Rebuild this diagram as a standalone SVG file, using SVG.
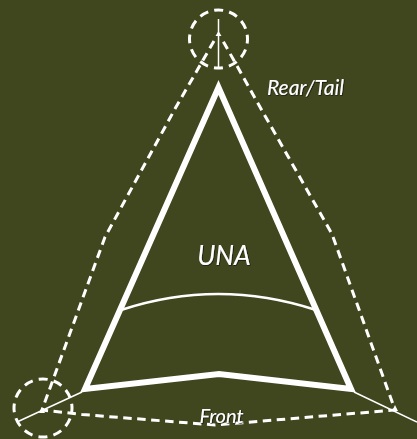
<svg xmlns="http://www.w3.org/2000/svg" width="417" height="439" viewBox="0 0 417 439">
<defs>
<filter id="shadow" x="-10%" y="-20%" width="120%" height="140%"><feDropShadow dx="0.6" dy="0.6" stdDeviation="0.3" flood-color="#111"/></filter>
</defs>
<style>
.bg{fill:#40461e}
.thick{fill:none;stroke:#fff;stroke-width:6;stroke-linejoin:miter;stroke-miterlimit:12}
.thin{fill:none;stroke:#fff;stroke-width:1.5}
.arc{fill:none;stroke:#fff;stroke-width:2.500}
.dash{fill:none;stroke:#fff;stroke-width:3;stroke-dasharray:8.500 5.500}
.circ{fill:none;stroke:#fff;stroke-width:3;stroke-dasharray:9 6.180;stroke-dashoffset:4.500}
.lbl{font-family:"Lato","Liberation Sans",sans-serif;font-style:italic;fill:#fff;filter:url(#shadow)}
</style>
<rect class="bg" width="417" height="439"/>
<g id="connectors">
<path class="thin" d="M218.500 19V68"/>
<path class="thin" d="M82 392L17 422"/>
<path class="thin" d="M354 392L417 422"/>
<path class="dash" d="M214 41L176 107L105 237L42 410L82 414.500L215 425L395 410L332 234L260 107L223 41"/>
<path d="M218.500 31l-3 5h6zM42 407l-3 6 6 0zM395 405l-3 6 6 0z" fill="#fff"/>
</g>
<g id="node-rear-circle"><circle class="circ" cx="218.500" cy="39" r="29"/></g>
<g id="node-front-circle"><circle class="circ" cx="43" cy="408" r="29"/></g>
<g id="node-una">
<path class="thick" d="M218.500 87.500L351 389L219 374L85 389Z"/>
<path class="arc" d="M121 310Q218 278 316 310"/>
<text class="lbl" x="224" y="265" font-size="26.500" text-anchor="middle">UNA</text>
</g>
<g id="label-rear"><text class="lbl" x="305.500" y="95" font-size="21" text-anchor="middle">Rear/Tail</text></g>
<g id="label-front"><text class="lbl" x="221.500" y="423" font-size="20" text-anchor="middle">Front</text></g>
</svg>
